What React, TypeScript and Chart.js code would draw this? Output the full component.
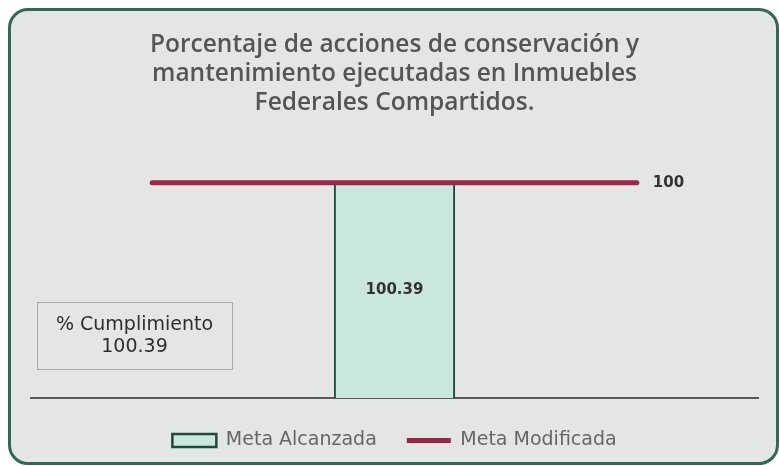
import React, { useEffect, useRef } from "react";
import { Chart, registerables } from "chart.js";

Chart.register(...registerables);

const categories = ["", "Meta", ""];
const metaAlcanzada = [null, 100.39, null];
const metaModificada = [100, 100, 100];
const titleLines = [
  "Porcentaje de acciones de conservación y",
  "mantenimiento ejecutadas en Inmuebles",
  "Federales Compartidos.",
];
const cumplimientoLines = ["% Cumplimiento", "100.39"];

const TITLE_FONT = "'Open Sans', sans-serif";
const FONT = "'DejaVu Sans', sans-serif";

const labelsPlugin = {
  id: "customLabels",
  afterDatasetsDraw(chart: any) {
    const ctx = chart.ctx;
    const area = chart.chartArea;
    ctx.save();
    const barMeta = chart.getDatasetMeta(0);
    barMeta.data.forEach((el: any, i: number) => {
      const v = metaAlcanzada[i];
      if (v == null) return;
      ctx.font = `bold 15px ${FONT}`;
      ctx.fillStyle = "#333333";
      ctx.textAlign = "center";
      ctx.textBaseline = "middle";
      ctx.fillText(String(v), el.x, (el.y + el.base) / 2);
    });
    const lineMeta = chart.getDatasetMeta(1);
    const last = lineMeta.data[lineMeta.data.length - 1];
    if (last) {
      ctx.font = `bold 15px ${FONT}`;
      ctx.fillStyle = "#333333";
      ctx.textAlign = "left";
      ctx.textBaseline = "middle";
      ctx.fillText(String(metaModificada[metaModificada.length - 1]), last.x + 16, last.y);
    }
    const bx = area.left + 6;
    const bw = 195;
    const bh = 67;
    const by = area.bottom - 96;
    ctx.fillStyle = "#e5e5e5";
    ctx.fillRect(bx, by, bw, bh);
    ctx.strokeStyle = "#a8a8a8";
    ctx.lineWidth = 1;
    ctx.strokeRect(bx + 0.5, by + 0.5, bw, bh);
    ctx.font = `19px ${FONT}`;
    ctx.fillStyle = "#2e2e2e";
    ctx.textAlign = "center";
    ctx.textBaseline = "middle";
    ctx.fillText(cumplimientoLines[0], bx + bw / 2, by + 23);
    ctx.fillText(cumplimientoLines[1], bx + bw / 2, by + 45);
    ctx.restore();
  },
};

export default function App() {
  const ref = useRef<HTMLCanvasElement | null>(null);
  useEffect(() => {
    if (!ref.current) return;
    const chart = new Chart(ref.current, {
      type: "bar",
      data: {
        labels: categories,
        datasets: [
          {
            type: "bar",
            label: "Meta Alcanzada",
            data: metaAlcanzada as any,
            backgroundColor: "#c9e7df",
            borderColor: "#1f4a3c",
            borderWidth: 2,
            barPercentage: 0.5,
            categoryPercentage: 1,
            order: 2,
          },
          {
            type: "line",
            label: "Meta Modificada",
            data: metaModificada,
            borderColor: "#9c2447",
            backgroundColor: "#9c2447",
            borderWidth: 5,
            pointRadius: 0,
            borderCapStyle: "round",
            order: 1,
          },
        ],
      },
      options: {
        animation: false,
        responsive: false,
        maintainAspectRatio: false,
        layout: { padding: { left: 20, right: 18, top: 0, bottom: 2 } },
        scales: {
          x: {
            offset: true,
            grid: { display: false, drawTicks: false },
            ticks: { display: false },
            border: { display: true, color: "#5a5a5a", width: 2 },
            afterFit: (s: any) => {
              s.height = 3;
            },
          },
          y: {
            display: false,
            min: 0,
            max: 120,
          },
        },
        plugins: {
          tooltip: { enabled: false },
          title: {
            display: true,
            text: titleLines,
            color: "#555555",
            font: { family: TITLE_FONT, size: 24.5, weight: "600", lineHeight: 1.18 },
            padding: { top: 20, bottom: 22 },
          },
          legend: {
            display: true,
            position: "bottom",
            labels: {
              usePointStyle: true,
              pointStyleWidth: 44,
              boxHeight: 13,
              padding: 30,
              color: "#666666",
              font: { family: FONT, size: 19 },
              generateLabels: () => [
                {
                  text: "Meta Alcanzada",
                  fillStyle: "#c9e7df",
                  strokeStyle: "#1f4a3c",
                  lineWidth: 2.5,
                  pointStyle: "rect",
                  datasetIndex: 0,
                  fontColor: "#666666",
                } as any,
                {
                  text: "Meta Modificada",
                  fillStyle: "#9c2447",
                  strokeStyle: "#9c2447",
                  lineWidth: 5,
                  pointStyle: "line",
                  datasetIndex: 1,
                  fontColor: "#666666",
                } as any,
              ],
            },
          },
        },
      },
      plugins: [labelsPlugin],
    });
    return () => chart.destroy();
  }, []);
  return (
    <div
      style={{
        position: "absolute",
        left: 8,
        top: 8,
        width: 771,
        height: 457,
        boxSizing: "border-box",
        border: "3px solid #2f6a56",
        borderRadius: 20,
        background: "#e4e6e5",
        overflow: "hidden",
      }}
    >
      <canvas ref={ref} width={765} height={451} style={{ display: "block" }} />
    </div>
  );
}
